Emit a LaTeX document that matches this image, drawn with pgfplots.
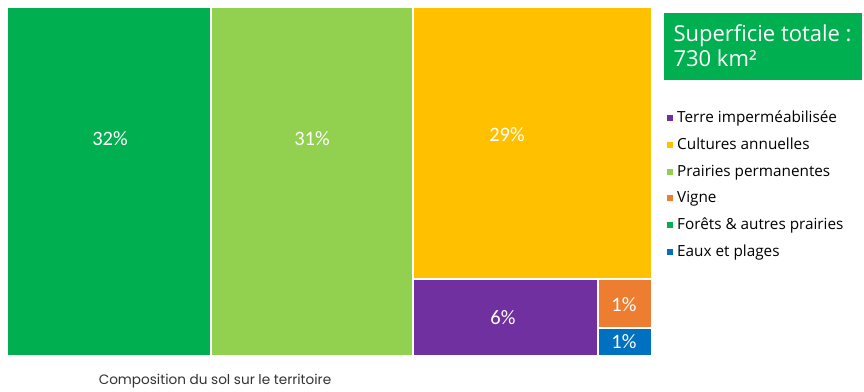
\documentclass[border=0pt]{standalone}
\usepackage{pgfplots}
\pgfplotsset{compat=1.18}
\usepackage{fontspec}
\setmainfont{Open Sans}
\newfontfamily\pctfont{Carlito}
\newfontfamily\capfont{Poppins}
\definecolor{cDG}{HTML}{00B050}
\definecolor{cLG}{HTML}{92D050}
\definecolor{cYE}{HTML}{FFC000}
\definecolor{cPU}{HTML}{7030A0}
\definecolor{cOR}{HTML}{ED7D31}
\definecolor{cBL}{HTML}{0070C0}
\begin{document}
\begin{tikzpicture}
\begin{axis}[
  scale only axis, width=864pt, height=391pt,
  xmin=0, xmax=864, ymin=0, ymax=391, y dir=reverse,
  hide axis, clip=false,
  legend style={at={(axis cs:664,107)}, anchor=north west, draw=none, fill=none,
    font=\fontsize{15.3}{18}\selectfont, row sep=9.8pt,
    /tikz/every even column/.append style={column sep=0pt},
    /tikz/every odd column/.append style={column sep=2pt}},
  legend cell align=left,
  legend image code/.code={\fill[#1,draw=none] (0pt,-3pt) rectangle (6pt,3pt);},
  every axis plot/.append style={draw=white, line width=2pt},
]
% Terre imperméabilisée (6%)
\addplot[fill=cPU] coordinates {(413,279) (598,279) (598,356) (413,356)} --cycle;
\addlegendentry{Terre imperméabilisée}
% Cultures annuelles (29%)
\addplot[fill=cYE] coordinates {(413,7) (652,7) (652,279) (413,279)} --cycle;
\addlegendentry{Cultures annuelles}
% Prairies permanentes (31%)
\addplot[fill=cLG] coordinates {(211,7) (413,7) (413,356) (211,356)} --cycle;
\addlegendentry{Prairies permanentes}
% Vigne (1%)
\addplot[fill=cOR] coordinates {(598,279) (652,279) (652,327.5) (598,327.5)} --cycle;
\addlegendentry{Vigne}
% Forêts & autres prairies (32%)
\addplot[fill=cDG] coordinates {(7,7) (211,7) (211,356) (7,356)} --cycle;
\addlegendentry{Forêts \& autres prairies}
% Eaux et plages (1%)
\addplot[fill=cBL] coordinates {(598,327.5) (652,327.5) (652,356) (598,356)} --cycle;
\addlegendentry{Eaux et plages}

\begin{scope}[every node/.style={text=white, font=\pctfont\fontsize{20.5}{23}\selectfont}]
\node at (axis cs:110,139) {32\%};
\node at (axis cs:312,139) {31\%};
\node at (axis cs:507,135) {29\%};
\node at (axis cs:503,318) {6\%};
\node at (axis cs:624,305) {1\%};
\node at (axis cs:624,342) {1\%};
\end{scope}

\fill[cDG] (axis cs:664,13) rectangle (axis cs:862,80);
\node[anchor=west, text=white, font=\fontsize{22}{25}\selectfont, align=left]
  at (axis cs:670,46) {Superficie totale :\\730 km²};

\node[font=\capfont\fontsize{13.6}{15}\selectfont, text=black!80] at (axis cs:215,381)
  {Composition du sol sur le territoire};
\end{axis}
\pgfresetboundingbox
\path (current axis.south west) rectangle (current axis.north east);
\end{tikzpicture}
\end{document}
